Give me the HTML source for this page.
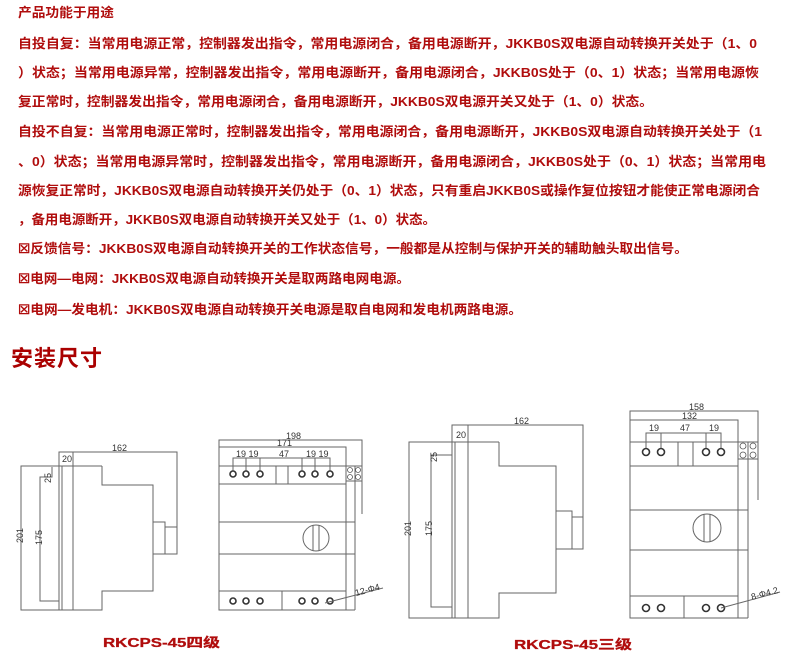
<!DOCTYPE html>
<html><head><meta charset="utf-8"><style>
html,body{margin:0;padding:0;background:#fff;width:790px;height:657px;overflow:hidden}
svg{display:block}
.t{font-family:"Liberation Sans","Noto Sans CJK SC",sans-serif;font-weight:bold;font-size:13px;fill:#b00d0d}
.d{font-family:"Liberation Sans",sans-serif;font-size:9px;fill:#333}
.l{fill:none;stroke:#666;stroke-width:1}
.c{fill:#fff;stroke:#333;stroke-width:1.6}
</style></head><body>
<svg width="790" height="657" viewBox="0 0 790 657" xmlns="http://www.w3.org/2000/svg">
<text class="t" x="18" y="17" font-size="12" fill="#9a0f0f" textLength="96" lengthAdjust="spacingAndGlyphs">产品功能于用途</text>
<text class="t" x="18" y="48" textLength="739" lengthAdjust="spacingAndGlyphs">自投自复：当常用电源正常，控制器发出指令，常用电源闭合，备用电源断开，JKKB0S双电源自动转换开关处于（1、0</text>
<text class="t" x="18" y="77" textLength="741" lengthAdjust="spacingAndGlyphs">）状态；当常用电源异常，控制器发出指令，常用电源断开，备用电源闭合，JKKB0S处于（0、1）状态；当常用电源恢</text>
<text class="t" x="18" y="106" textLength="635" lengthAdjust="spacingAndGlyphs">复正常时，控制器发出指令，常用电源闭合，备用电源断开，JKKB0S双电源开关又处于（1、0）状态。</text>
<text class="t" x="18" y="136" textLength="744" lengthAdjust="spacingAndGlyphs">自投不自复：当常用电源正常时，控制器发出指令，常用电源闭合，备用电源断开，JKKB0S双电源自动转换开关处于（1</text>
<text class="t" x="18" y="166" textLength="748" lengthAdjust="spacingAndGlyphs">、0）状态；当常用电源异常时，控制器发出指令，常用电源断开，备用电源闭合，JKKB0S处于（0、1）状态；当常用电</text>
<text class="t" x="18" y="195" textLength="742" lengthAdjust="spacingAndGlyphs">源恢复正常时，JKKB0S双电源自动转换开关仍处于（0、1）状态，只有重启JKKB0S或操作复位按钮才能使正常电源闭合</text>
<text class="t" x="18" y="224" textLength="418" lengthAdjust="spacingAndGlyphs">，备用电源断开，JKKB0S双电源自动转换开关又处于（1、0）状态。</text>
<text class="t" x="18" y="253" textLength="670" lengthAdjust="spacingAndGlyphs">☒反馈信号：JKKB0S双电源自动转换开关的工作状态信号，一般都是从控制与保护开关的辅助触头取出信号。</text>
<text class="t" x="18" y="283" textLength="392" lengthAdjust="spacingAndGlyphs">☒电网—电网：JKKB0S双电源自动转换开关是取两路电网电源。</text>
<text class="t" x="18" y="314" textLength="504" lengthAdjust="spacingAndGlyphs">☒电网—发电机：JKKB0S双电源自动转换开关电源是取自电网和发电机两路电源。</text>
<text x="11" y="366" font-family="Noto Sans CJK SC, WenQuanYi Zen Hei, sans-serif" font-weight="bold" font-size="22" letter-spacing="1" fill="#a00">安装尺寸</text>

<!-- Figure 1 left -->
<polyline class="l" points="102,466 21,466 21,610 102,610 102,591 153,591 153,485 102,485 102,466"/>
<polyline class="l" points="52,467 52,477 40,477 40,601 59,601"/>
<rect class="l" x="59" y="466" width="14" height="144"/>
<line class="l" x1="62" y1="466" x2="62" y2="610"/>
<line class="l" x1="59" y1="466" x2="59" y2="485"/>
<polyline class="l" points="59,466 59,452 177,452 177,554"/>
<line class="l" x1="73" y1="452" x2="73" y2="466"/>
<rect class="l" x="153" y="522" width="12" height="32"/>
<rect class="l" x="165" y="527" width="12" height="27"/>
<text class="d" x="62" y="462">20</text>
<text class="d" x="112" y="451" font-size="10">162</text>
<text class="d" transform="translate(51,483) rotate(-90)">25</text>
<text class="d" transform="translate(42,545) rotate(-90)">175</text>
<text class="d" transform="translate(23,543) rotate(-90)">201</text>

<!-- Figure 1 right -->
<polyline class="l" points="219,610 219,440 362,440 362,514"/>
<polyline class="l" points="219,447 346,447 346,466"/>
<rect class="l" x="219" y="466" width="127" height="144"/>
<line class="l" x1="346" y1="466" x2="355" y2="466"/>
<line class="l" x1="355" y1="466" x2="355" y2="610"/>
<line class="l" x1="346" y1="610" x2="355" y2="610"/>
<line class="l" x1="219" y1="484" x2="346" y2="484"/>
<line class="l" x1="219" y1="522" x2="355" y2="522"/>
<line class="l" x1="219" y1="554" x2="355" y2="554"/>
<line class="l" x1="219" y1="591" x2="346" y2="591"/>
<line class="l" x1="276" y1="466" x2="276" y2="484"/>
<line class="l" x1="288" y1="466" x2="288" y2="484"/>
<line class="l" x1="282" y1="591" x2="282" y2="610"/>
<rect class="l" x="346" y="466" width="16" height="15"/>
<g fill="none" stroke="#555" stroke-width="0.8"><circle cx="350" cy="470" r="2.5"/><circle cx="358" cy="470" r="2.5"/><circle cx="350" cy="477" r="2.5"/><circle cx="358" cy="477" r="2.5"/></g>
<polyline class="l" points="233,474 233,458 330,458 330,474"/>
<line class="l" x1="246" y1="458" x2="246" y2="474"/>
<line class="l" x1="260" y1="458" x2="260" y2="474"/>
<line class="l" x1="302" y1="458" x2="302" y2="474"/>
<line class="l" x1="315" y1="458" x2="315" y2="474"/>
<g><circle class="c" cx="233" cy="474" r="3"/><circle class="c" cx="246" cy="474" r="3"/><circle class="c" cx="260" cy="474" r="3"/><circle class="c" cx="302" cy="474" r="3"/><circle class="c" cx="315" cy="474" r="3"/><circle class="c" cx="330" cy="474" r="3"/>
<circle class="c" cx="233" cy="601" r="3"/><circle class="c" cx="246" cy="601" r="3"/><circle class="c" cx="260" cy="601" r="3"/><circle class="c" cx="302" cy="601" r="3"/><circle class="c" cx="315" cy="601" r="3"/><circle class="c" cx="330" cy="601" r="3"/></g>
<circle class="l" cx="316" cy="538" r="13"/>
<line class="l" x1="313" y1="525" x2="313" y2="551"/><line class="l" x1="319" y1="525" x2="319" y2="551"/>
<line class="l" x1="325" y1="603" x2="383" y2="588"/>
<text class="d" transform="translate(356,596) rotate(-15)">12-Φ4</text>
<text class="d" x="286" y="439" font-size="10">198</text>
<text class="d" x="277" y="446">171</text>
<text class="d" x="236" y="457">19 19</text><text class="d" x="279" y="457">47</text><text class="d" x="306" y="457">19 19</text>
<text class="t" x="103" y="647" font-size="17" stroke="#b00d0d" stroke-width="0.3" textLength="117" lengthAdjust="spacingAndGlyphs">RKCPS-45四级</text>

<!-- Figure 2 left -->
<polyline class="l" points="499,442 409,442 409,618 499,618 499,593 556,593 556,466 499,466 499,442"/>
<polyline class="l" points="452,455 431,455 431,607 452,607"/>
<rect class="l" x="452" y="442" width="16" height="176"/>
<line class="l" x1="455" y1="442" x2="455" y2="618"/>
<polyline class="l" points="452,442 452,425 583,425 583,517"/>
<line class="l" x1="468" y1="425" x2="468" y2="442"/>
<rect class="l" x="556" y="511" width="16" height="38"/>
<rect class="l" x="572" y="517" width="11" height="32"/>
<text class="d" x="456" y="438">20</text>
<text class="d" x="514" y="424" font-size="10">162</text>
<text class="d" transform="translate(437,462) rotate(-90)">25</text>
<text class="d" transform="translate(432,536) rotate(-90)">175</text>
<text class="d" transform="translate(411,536) rotate(-90)">201</text>

<!-- Figure 2 right -->
<polyline class="l" points="630,618 630,411 758,411 758,500"/>
<polyline class="l" points="630,420 738,420 738,442"/>
<rect class="l" x="630" y="442" width="108" height="176"/>
<line class="l" x1="748" y1="442" x2="748" y2="618"/>
<line class="l" x1="738" y1="618" x2="748" y2="618"/>
<line class="l" x1="630" y1="466" x2="738" y2="466"/>
<line class="l" x1="630" y1="510" x2="748" y2="510"/>
<line class="l" x1="630" y1="550" x2="748" y2="550"/>
<line class="l" x1="630" y1="596" x2="738" y2="596"/>
<line class="l" x1="678" y1="442" x2="678" y2="466"/>
<line class="l" x1="693" y1="442" x2="693" y2="466"/>
<line class="l" x1="684" y1="596" x2="684" y2="618"/>
<rect class="l" x="738" y="442" width="20" height="17"/>
<g fill="none" stroke="#555" stroke-width="0.8"><circle cx="743" cy="446" r="3"/><circle cx="753" cy="446" r="3"/><circle cx="743" cy="455" r="3"/><circle cx="753" cy="455" r="3"/></g>
<polyline class="l" points="646,452 646,433 721,433 721,452"/>
<line class="l" x1="661" y1="433" x2="661" y2="452"/>
<line class="l" x1="706" y1="433" x2="706" y2="452"/>
<g><circle class="c" cx="646" cy="452" r="3.5"/><circle class="c" cx="661" cy="452" r="3.5"/><circle class="c" cx="706" cy="452" r="3.5"/><circle class="c" cx="721" cy="452" r="3.5"/>
<circle class="c" cx="646" cy="608" r="3.5"/><circle class="c" cx="661" cy="608" r="3.5"/><circle class="c" cx="706" cy="608" r="3.5"/><circle class="c" cx="721" cy="608" r="3.5"/></g>
<circle class="l" cx="707" cy="528" r="14"/>
<line class="l" x1="704" y1="514" x2="704" y2="542"/><line class="l" x1="710" y1="514" x2="710" y2="542"/>
<line class="l" x1="721" y1="608" x2="780" y2="592"/>
<text class="d" transform="translate(752,600) rotate(-15)">8-Φ4.2</text>
<text class="d" x="689" y="410" font-size="10">158</text>
<text class="d" x="682" y="419" font-size="10">132</text>
<text class="d" x="649" y="431" font-size="10">19</text><text class="d" x="680" y="431" font-size="10">47</text><text class="d" x="709" y="431" font-size="10">19</text>
<text class="t" x="514" y="649" font-size="17" stroke="#b00d0d" stroke-width="0.3" textLength="118" lengthAdjust="spacingAndGlyphs">RKCPS-45三级</text>
</svg>
</body></html>
